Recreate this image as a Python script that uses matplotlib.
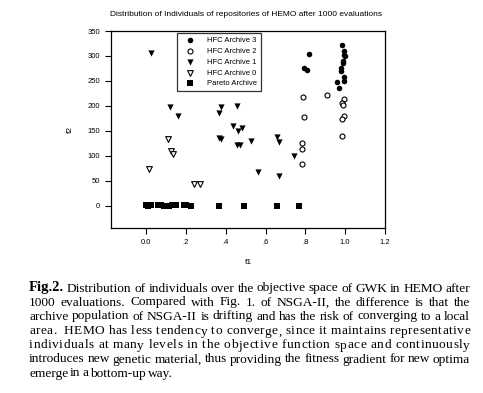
import matplotlib
matplotlib.use("Agg")
import matplotlib.pyplot as plt

plt.rcParams['font.family'] = ['Liberation Sans', 'DejaVu Sans']

# HFC Archive 3 (filled circles)
a3_f1 = [0.983, 0.995, 0.995, 1.0, 0.99, 0.99, 0.98, 0.98, 0.995, 0.995, 0.96, 0.97, 0.82, 0.794, 0.81]
a3_f2 = [321, 309, 301, 299, 289, 286, 275, 269, 257, 249, 248, 236, 303, 275, 271]
# HFC Archive 2 (open circles)
a2_f1 = [0.789, 0.91, 0.995, 0.985, 0.99, 0.794, 0.995, 0.985, 0.985, 0.784, 0.784, 0.784]
a2_f2 = [218, 222, 214, 206, 202, 178, 180, 174, 139, 125, 113, 83]
# HFC Archive 1 (filled down triangles)
a1_f1 = [0.024, 0.119, 0.162, 0.377, 0.367, 0.457, 0.437, 0.462, 0.482, 0.367, 0.377,
         0.457, 0.472, 0.528, 0.563, 0.658, 0.668, 0.668, 0.744]
a1_f2 = [305, 197, 180, 198, 186, 200, 160, 150, 156, 135, 133,
         121, 121, 129, 67, 137, 127, 59, 99]
# HFC Archive 0 (open down triangles)
a0_f1 = [0.015, 0.11, 0.126, 0.136, 0.241, 0.271]
a0_f2 = [73, 133, 109, 103, 44, 44]
# Pareto Archive (filled squares)
pa_f1 = [0.0, 0.01, 0.025, 0.06, 0.075, 0.09, 0.10, 0.115, 0.13, 0.15, 0.19, 0.2, 0.225,
         0.367, 0.49, 0.658, 0.769]
pa_f2 = [2, 0, 1, 1, 1, 0, -1, 0, 1, 1, 2, 1, 0, 0, 0, 0, 0]

xticks = [0.0, 0.2, 0.4, 0.6, 0.8, 1.0, 1.2]
xticklabels = ['0.0', '.2', '.4', '.6', '.8', '1.0', '1.2']
yticks = [0, 50, 100, 150, 200, 250, 300, 350]

caption = [
    "Distribution of individuals over the objective space of GWK in HEMO after",
    "1000 evaluations. Compared with Fig. 1. of  NSGA-II, the difference is that the",
    "archive population of NSGA-II is drifting and has the risk of converging to a local",
    "area.  HEMO has less tendency to converge, since it maintains representative",
    "individuals at many levels in the objective function space and continuously",
    "introduces new genetic material, thus providing the fitness gradient for new optima",
    "emerge in a bottom-up way.",
]
# lines justified by spreading letters rather than words
letter_spaced = [3, 4]

W, H = 483, 393
fig = plt.figure(figsize=(W / 100, H / 100), dpi=100)
ax = fig.add_axes([111 / W, 1 - 228 / H, (385 - 111) / W, (228 - 31) / H])

ax.scatter(a3_f1, a3_f2, marker='o', s=16, c='black', linewidths=0, label='HFC Archive 3')
ax.scatter(a2_f1, a2_f2, marker='o', s=13, facecolors='white', edgecolors='black',
           linewidths=0.8, label='HFC Archive 2')
ax.scatter(a1_f1, a1_f2, marker='v', s=20, c='black', linewidths=0, label='HFC Archive 1')
ax.scatter(a0_f1, a0_f2, marker='v', s=17, facecolors='white', edgecolors='black',
           linewidths=0.8, label='HFC Archive 0')
ax.scatter(pa_f1, pa_f2, marker='s', s=18, c='black', linewidths=0, label='Pareto Archive')

ax.set_xlim(-0.176, 1.2)
ax.set_ylim(-45, 350)
ax.set_xticks(xticks)
ax.set_xticklabels(xticklabels)
ax.set_yticks(yticks)
ax.tick_params(direction='out', length=4, width=0.8, labelsize=5.5, pad=4,
               top=False, right=False)
for sp in ax.spines.values():
    sp.set_linewidth(0.9)
ax.set_xlabel('f1', fontsize=6, labelpad=9)
ax.set_ylabel('f2', fontsize=6, labelpad=10)

leg = ax.legend(loc='upper left', bbox_to_anchor=(177 / W, 1 - 33 / H),
                bbox_transform=fig.transFigure, fontsize=5.5, frameon=True,
                fancybox=False, borderaxespad=0, handletextpad=1.0,
                labelspacing=0.45, borderpad=0.5, handlelength=2.4, scatterpoints=1)
leg.get_frame().set_edgecolor('black')
leg.get_frame().set_linewidth(0.9)

fig.text(246 / W, 1 - 15 / H, "Distribution of Individuals of repositories of HEMO after 1000 evaluations",
         ha='center', va='center', fontsize=6)

# caption, justified
fig.canvas.draw()
r = fig.canvas.get_renderer()
left, right = 29, 470
ys = [288, 302, 316, 331, 345, 359, 373]
serif = ['Liberation Serif', 'DejaVu Serif']
body = 9.6


def width_of(s, **kw):
    t = fig.text(0, 0, s, **kw)
    w = t.get_window_extent(r).width
    t.remove()
    return w


space_w = width_of("a a", family=serif, fontsize=body) - width_of("aa", family=serif, fontsize=body)

for i, (line, yc) in enumerate(zip(caption, ys)):
    yb = 1 - (yc + 3.5) / H
    if i in letter_spaced:
        chars = list(line)
        items, widths = [], []
        for ch in chars:
            if ch == ' ':
                items.append(None)
                widths.append(space_w)
            else:
                t = fig.text(0, yb, ch, family=serif, fontsize=body, va='baseline')
                items.append(t)
                widths.append(t.get_window_extent(r).width)
        extra = (right - left - sum(widths)) / (len(chars) - 1)
        x = left
        for t, wd in zip(items, widths):
            if t is not None:
                t.set_x(x / W)
            x += wd + extra
        continue
    words = line.split()
    items = []
    if i == 0:
        items.append(fig.text(0, yb, "Fig.2.", family=serif, fontsize=10.5, weight='bold',
                              va='baseline'))
    for w in words:
        items.append(fig.text(0, yb, w, family=serif, fontsize=body, va='baseline'))
    widths = [t.get_window_extent(r).width for t in items]
    if i == len(caption) - 1:
        gap = 1.8
    else:
        gap = max(1.5, (right - left - sum(widths)) / (len(items) - 1))
    x = left
    for t, wd in zip(items, widths):
        t.set_x(x / W)
        x += wd + gap

fig.savefig('out.png', dpi=100)
